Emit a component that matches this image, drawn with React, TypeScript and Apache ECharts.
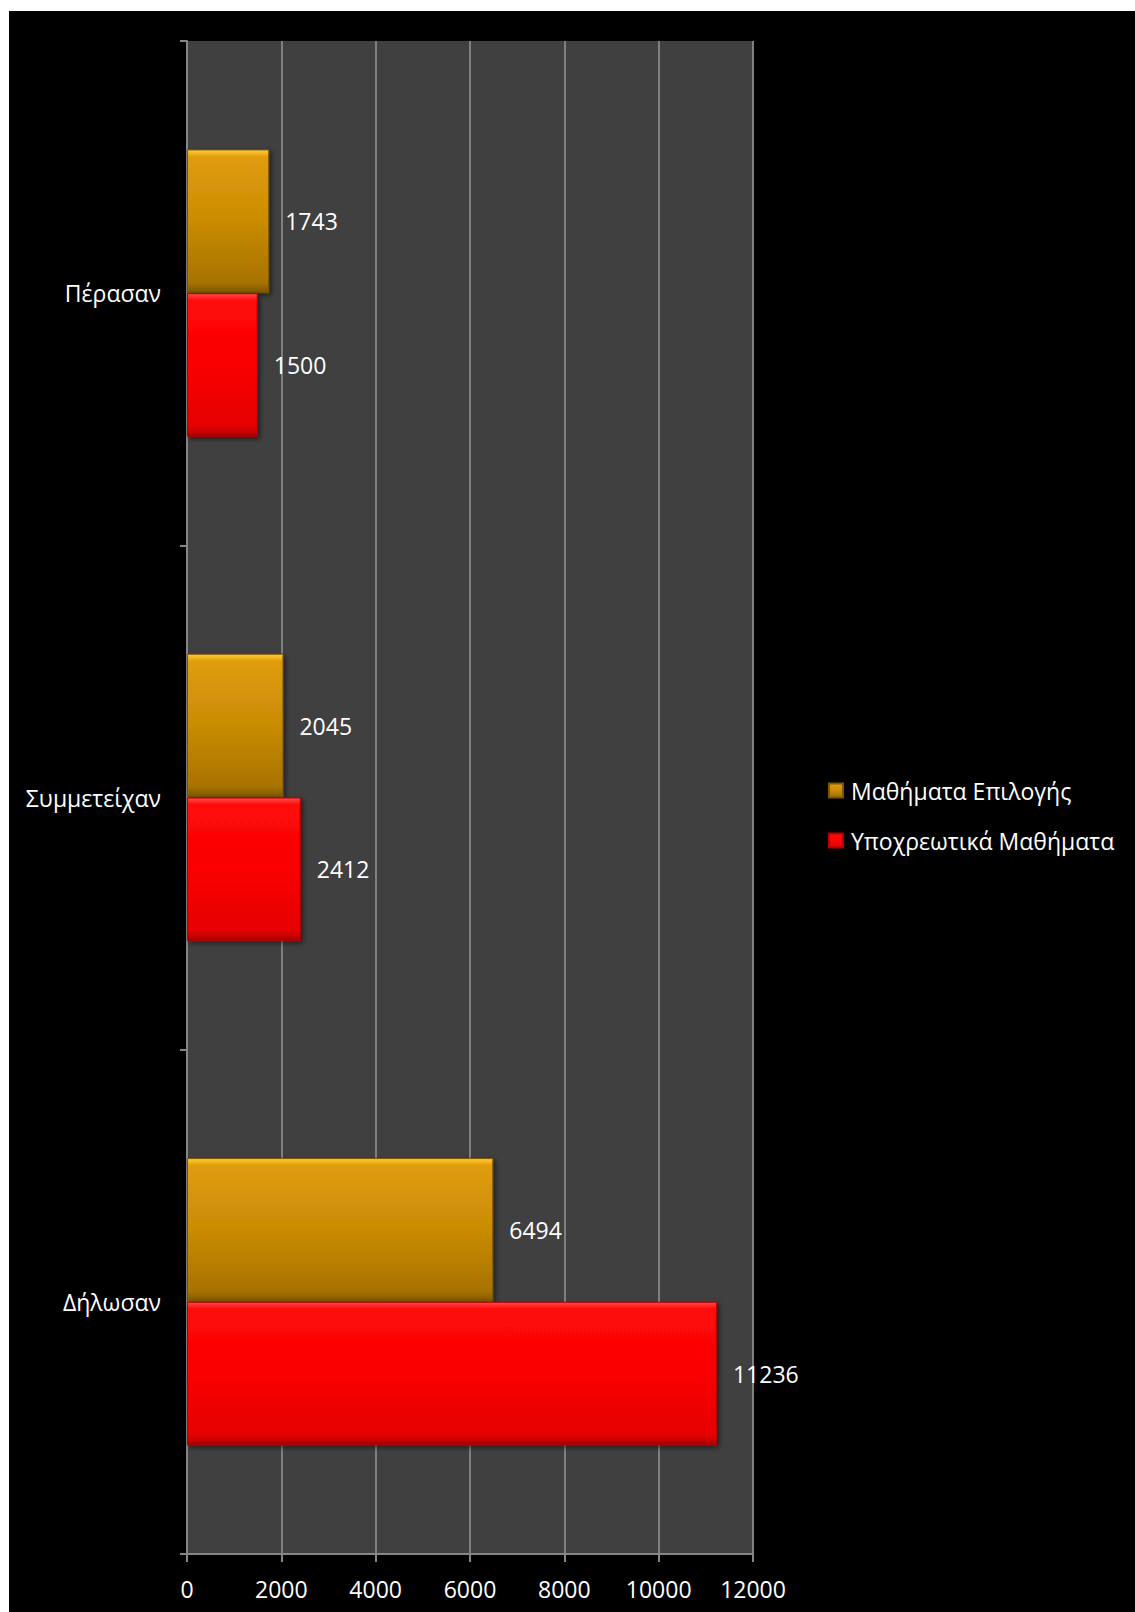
import React, { useEffect, useRef } from "react";
import * as echarts from "echarts";

const categories = ["Δήλωσαν", "Συμμετείχαν", "Πέρασαν"];
const compulsoryName = "Υποχρεωτικά Μαθήματα";
const electiveName = "Μαθήματα Επιλογής";
const compulsoryValues = [11236, 2412, 1500];
const electiveValues = [6494, 2045, 1743];
const xTicks = { min: 0, max: 12000, interval: 2000 };

const FONT = "'Open Sans', 'Noto Sans', sans-serif";

export default function App() {
  const ref = useRef<HTMLDivElement>(null);
  useEffect(() => {
    if (!ref.current) return;
    const chart = echarts.init(ref.current, null, { renderer: "svg" });
    const goldGrad = new echarts.graphic.LinearGradient(0, 0, 0, 1, [
      { offset: 0, color: "#ffcf3a" },
      { offset: 0.05, color: "#e09c08" },
      { offset: 0.5, color: "#c98c06" },
      { offset: 0.93, color: "#a77205" },
      { offset: 1, color: "#7d5504" },
    ]);
    const redGrad = new echarts.graphic.LinearGradient(0, 0, 0, 1, [
      { offset: 0, color: "#ff4a4a" },
      { offset: 0.05, color: "#ff0808" },
      { offset: 0.5, color: "#fa0404" },
      { offset: 0.93, color: "#e50404" },
      { offset: 1, color: "#a50000" },
    ]);
    const labelStyle = {
      show: true,
      position: "right" as const,
      distance: 16,
      color: "#ffffff",
      fontFamily: FONT,
      fontSize: 23,
    };
    chart.setOption({
      animation: false,
      backgroundColor: "#000000",
      textStyle: { fontFamily: FONT },
      grid: { left: 178, top: 30, width: 566, height: 1513, containLabel: false },
      legend: {
        data: [electiveName, compulsoryName],
        orient: "vertical",
        left: 814,
        top: 763,
        itemWidth: 14,
        itemHeight: 14,
        itemGap: 27,
        icon: "rect",
        textStyle: { color: "#ffffff", fontSize: 23, fontFamily: FONT, padding: [0, 0, 0, 3] },
      },
      xAxis: {
        type: "value",
        min: xTicks.min,
        max: xTicks.max,
        interval: xTicks.interval,
        axisLine: { show: true, lineStyle: { color: "#868686", width: 2 } },
        axisTick: { show: true, length: 8, lineStyle: { color: "#868686", width: 2 } },
        axisLabel: {
          color: "#ffffff",
          fontSize: 23,
          fontFamily: FONT,
          margin: 23,
          formatter: (v: number) => String(v),
        },
        splitLine: { show: true, lineStyle: { color: "#808080", width: 2 } },
      },
      yAxis: {
        type: "category",
        data: categories,
        axisLine: { show: true, lineStyle: { color: "#868686", width: 2 } },
        axisTick: { show: true, length: 7, lineStyle: { color: "#868686", width: 2 } },
        axisLabel: { color: "#ffffff", fontSize: 23, fontFamily: FONT, margin: 26 },
        splitArea: { show: false },
      },
      series: [
        {
          name: electiveName,
          type: "bar",
          data: electiveValues,
          barCategoryGap: "43%",
          barGap: "0%",
          itemStyle: {
            color: goldGrad,
            borderColor: "#7d5504",
            borderWidth: 1,
            shadowColor: "rgba(0,0,0,0.55)",
            shadowBlur: 5,
            shadowOffsetX: 2,
            shadowOffsetY: 2,
          },
          label: labelStyle,
        },
        {
          name: compulsoryName,
          type: "bar",
          data: compulsoryValues,
          barCategoryGap: "43%",
          barGap: "0%",
          itemStyle: {
            color: redGrad,
            borderColor: "#b30000",
            borderWidth: 1,
            shadowColor: "rgba(0,0,0,0.55)",
            shadowBlur: 5,
            shadowOffsetX: 2,
            shadowOffsetY: 2,
          },
          label: labelStyle,
        },
      ],
      graphic: [
        {
          type: "rect",
          z: -10,
          silent: true,
          shape: { x: 178, y: 30, width: 566, height: 1513 },
          style: { fill: "#404040" },
        },
      ],
    });
    return () => chart.dispose();
  }, []);
  return (
    <div
      ref={ref}
      style={{ position: "absolute", left: 9, top: 11, width: 1126, height: 1601 }}
    />
  );
}
